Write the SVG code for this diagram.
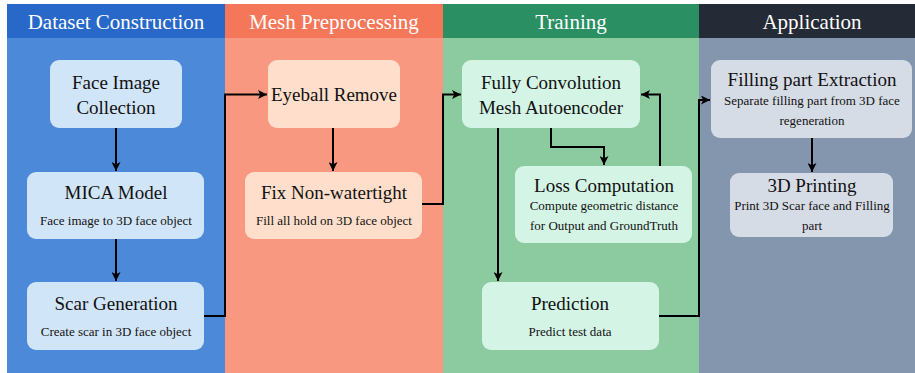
<svg xmlns="http://www.w3.org/2000/svg" width="915" height="373" viewBox="0 0 915 373">
<defs>
<marker id="ah" viewBox="0 0 10 10" refX="10" refY="5" markerWidth="4.5" markerHeight="4.5" orient="auto" markerUnits="strokeWidth">
<path d="M0,0 L10,5 L0,10 L2.5,5 Z" fill="#000"/>
</marker>
<style>
text{font-family:'Liberation Serif','Times New Roman',Times,'DejaVu Serif',serif}
.hdr{font-size:21px;fill:#ffffff;text-anchor:middle}
.t{font-size:19px;fill:#111;text-anchor:middle}
.s{font-size:13px;fill:#111;text-anchor:middle}
.c{fill:none;stroke:#000;stroke-width:2;marker-end:url(#ah)}
.bb{fill:#D1E5F9}
.ob{fill:#FFDFCB}
.gb{fill:#D4F4E5}
.sb{fill:#D6DCE6}
</style>
</defs>
<rect x="0" y="0" width="915" height="373" fill="#ffffff"/>
<g id="lanes">
<rect x="7" y="4" width="218" height="369" fill="#4C8AD9"/>
<rect x="7" y="4" width="218" height="34" fill="#2868C9"/>
<rect x="225" y="4" width="218" height="369" fill="#F89881"/>
<rect x="225" y="4" width="218" height="34" fill="#F4775A"/>
<rect x="443" y="4" width="256" height="369" fill="#8CCBA0"/>
<rect x="443" y="4" width="256" height="34" fill="#2B8F64"/>
<rect x="699" y="4" width="216" height="369" fill="#8396AE"/>
<rect x="699" y="4" width="216" height="34" fill="#252B36"/>
<text class="hdr" x="116" y="29">Dataset Construction</text>
<text class="hdr" x="334" y="29">Mesh Preprocessing</text>
<text class="hdr" x="571" y="29">Training</text>
<text class="hdr" x="812" y="29">Application</text>
</g>
<g id="connectors">
<path class="c" d="M116,128 L116,171"/>
<path class="c" d="M116,239 L116,281"/>
<path class="c" d="M204,316 L225,316 L225,94.5 L267,94.5"/>
<path class="c" d="M333,128 L333,171"/>
<path class="c" d="M422,204 L443,204 L443,94.5 L461,94.5"/>
<path class="c" d="M551,128 L551,147 L604,147 L604,165"/>
<path class="c" d="M660,166 L660,94.5 L641,94.5"/>
<path class="c" d="M498,128 L498,281"/>
<path class="c" d="M659,316 L699,316 L699,100 L710,100"/>
<path class="c" d="M812,138 L812,172"/>
</g>
<g id="face-image-collection">
<rect class="bb" x="50" y="60" width="132" height="68" rx="9"/>
<text class="t" x="116" y="89">Face Image</text>
<text class="t" x="116" y="114">Collection</text>
</g>
<g id="mica-model">
<rect class="bb" x="27" y="172" width="177" height="67" rx="9"/>
<text class="t" x="116" y="199">MICA Model</text>
<text class="s" x="116" y="225">Face image to 3D face object</text>
</g>
<g id="scar-generation">
<rect class="bb" x="27" y="282" width="177" height="68" rx="9"/>
<text class="t" x="116" y="310">Scar Generation</text>
<text class="s" x="116" y="336">Create scar in 3D face object</text>
</g>
<g id="eyeball-remove">
<rect class="ob" x="268" y="60" width="132" height="68" rx="9"/>
<text class="t" x="334" y="101">Eyeball Remove</text>
</g>
<g id="fix-non-watertight">
<rect class="ob" x="245" y="172" width="177" height="67" rx="9"/>
<text class="t" x="334" y="199">Fix Non-watertight</text>
<text class="s" x="334" y="225">Fill all hold on 3D face object</text>
</g>
<g id="fully-convolution">
<rect class="gb" x="462" y="60" width="178" height="68" rx="9"/>
<text class="t" x="551" y="89">Fully Convolution</text>
<text class="t" x="551" y="114">Mesh Autoencoder</text>
</g>
<g id="loss-computation">
<rect class="gb" x="515" y="166" width="177" height="77" rx="9"/>
<text class="t" x="604" y="192">Loss Computation</text>
<text class="s" x="604" y="210">Compute geometric distance</text>
<text class="s" x="604" y="230">for Output and GroundTruth</text>
</g>
<g id="prediction">
<rect class="gb" x="482" y="282" width="177" height="68" rx="9"/>
<text class="t" x="570" y="310">Prediction</text>
<text class="s" x="570" y="336">Predict test data</text>
</g>
<g id="filling-part-extraction">
<rect class="sb" x="711" y="60" width="201" height="78" rx="9"/>
<text class="t" x="812" y="86">Filling part Extraction</text>
<text class="s" x="812" y="105">Separate filling part from 3D face</text>
<text class="s" x="812" y="125">regeneration</text>
</g>
<g id="3d-printing">
<rect class="sb" x="730" y="173" width="163" height="64" rx="9"/>
<text class="t" x="812" y="192">3D Printing</text>
<text class="s" x="812" y="210">Print 3D Scar face and Filling</text>
<text class="s" x="812" y="230">part</text>
</g>
</svg>
